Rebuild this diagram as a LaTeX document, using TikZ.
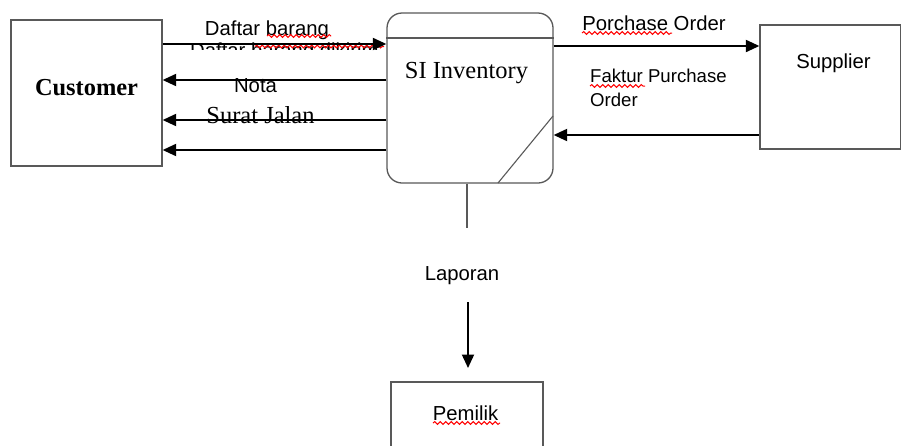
\documentclass[tikz,border=0pt]{standalone}
\usepackage{fontspec}
\setmainfont{Liberation Serif}
\newfontfamily\arial{Liberation Sans}
\usetikzlibrary{arrows.meta,decorations.pathmorphing}
\begin{document}
\begin{tikzpicture}[x=1pt,y=-1pt,
  box/.style={draw=black!65,line width=1.3pt,inner sep=0pt},
  flow/.style={line width=2pt,-{Triangle[length=13.5pt,width=12pt]}},
  sans/.style={font=\arial\fontsize{20.3}{24}\selectfont,inner sep=0pt,anchor=base},
  serif/.style={font=\fontsize{24.5}{28}\selectfont,inner sep=0pt,anchor=base},
  spell/.style={draw=red,line width=1pt,decorate,decoration={snake,segment length=5.5pt,amplitude=1.4pt}}]
\useasboundingbox (0,0) rectangle (901,445);
\fill[white] (0,0) rectangle (901,445);
\clip (0,0) rectangle (901,445);
% boxes
\node[box,minimum width=151pt,minimum height=146pt] (cust) at (86.5,93) {};
\node[box,rounded corners=15pt,minimum width=166pt,minimum height=170pt] (si) at (470,98) {};
\node[box,minimum width=141pt,minimum height=124pt] (sup) at (830.5,87) {};
\node[box,minimum width=152pt,minimum height=80pt] (pem) at (467,422) {};
% details of SI box
\coordinate (hl) at (0,38);
\draw[draw=black!65,line width=1.1pt] (si.west |- hl) -- (si.east |- hl);
\coordinate (dgA) at (498,183);
\coordinate (dgB) at (553,116);
\draw[draw=black!65,line width=1.1pt] (dgA) -- (dgB);
% texts in boxes
\node[serif,font=\bfseries\fontsize{24.4}{28}\selectfont] (custT) at (86.5,95) {Customer};
\node[serif] (siT) at (466.5,78) {SI Inventory};
\node[sans] (supT) at (833.5,68) {Supplier};
\node[sans] (pemT) at (465.5,420) {Pemilik};
% y levels
\coordinate (y1) at (0,44);
\coordinate (y2) at (0,80);
\coordinate (y3) at (0,120);
\coordinate (y4) at (0,150);
\coordinate (y5) at (0,46);
\coordinate (y6) at (0,135);
% clipped hidden label
\begin{scope}
\clip (162,42) rectangle (386,49.5);
\node[sans,anchor=base west] (hid) at (190,57) {Daftar barang dikirim};
\draw[spell] (255,46.5) -- (384,46.5);
\end{scope}
% left flows
\draw[flow] (cust.east |- y1) -- (si.west |- y1);
\draw[flow] (si.west |- y2) -- (cust.east |- y2);
\draw[flow] (si.west |- y3) -- (cust.east |- y3);
\draw[flow] (si.west |- y4) -- (cust.east |- y4);
\node[sans] (lDaftar) at (267,35) {Daftar barang};
\draw[spell] (267,36) -- (331,36);
\node[sans] (lNota) at (255.5,92) {Nota};
\node[serif] (lSurat) at (260.5,123) {Surat Jalan};
% right flows
\draw[flow] (si.east |- y5) -- (sup.west |- y5);
\draw[flow] (sup.west |- y6) -- (si.east |- y6);
\node[sans] (lPO) at (654,30) {Porchase Order};
\draw[spell] (582,33) -- (672,33);
\node[sans,anchor=base west,font=\arial\fontsize{18.6}{22}\selectfont] (lFak) at (590,82) {Faktur Purchase};
\node[sans,anchor=base west,font=\arial\fontsize{18.6}{22}\selectfont] (lOrd) at (590,106) {Order};
\draw[spell] (590,86) -- (645,86);
% bottom
\coordinate (lapTop) at (467,228);
\draw[draw=black!65,line width=1.1pt] (si.south -| lapTop) -- (lapTop);
\node[sans] (lLap) at (462,280) {Laporan};
\coordinate (arS) at (468,302);
\coordinate (arE) at (468,368);
\draw[flow] (arS) -- (arE);
\draw[spell] (433,423) -- (500,423);
\end{tikzpicture}
\end{document}
